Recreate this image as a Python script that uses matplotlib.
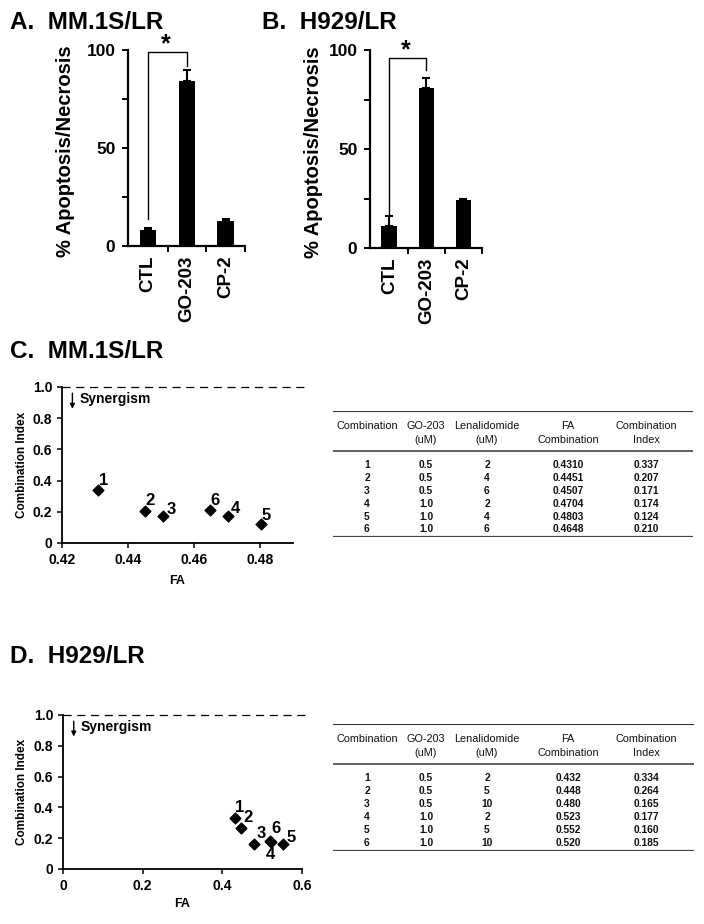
import numpy as np
import matplotlib
matplotlib.use("Agg")
import matplotlib.pyplot as plt
from matplotlib.lines import Line2D

plt.rcParams['font.family'] = ['Liberation Sans', 'DejaVu Sans']

# ---- data ----
groups = ['CTL', 'GO-203', 'CP-2']
mm1s_mean = [8, 84, 13]
mm1s_err = [1, 6, 1]
h929_mean = [11, 81, 24]
h929_err = [5, 5, 1]

combos = ['1', '2', '3', '4', '5', '6']
go203_dose = ['0.5', '0.5', '0.5', '1.0', '1.0', '1.0']
mm1s_len_dose = ['2', '4', '6', '2', '4', '6']
mm1s_fa = [0.4310, 0.4451, 0.4507, 0.4704, 0.4803, 0.4648]
mm1s_ci = [0.337, 0.207, 0.171, 0.174, 0.124, 0.210]
h929_len_dose = ['2', '5', '10', '2', '5', '10']
h929_fa = [0.432, 0.448, 0.480, 0.523, 0.552, 0.520]
h929_ci = [0.334, 0.264, 0.165, 0.177, 0.160, 0.185]

W, H = 704, 924
fig = plt.figure(figsize=(W / 100, H / 100), dpi=100)


def box(l, t, r, b):
    return [l / W, 1 - b / H, (r - l) / W, (b - t) / H]


def title(x, y, s):
    fig.text(x / W, 1 - y / H, s, fontsize=17.5, fontweight='bold', va='baseline')


def bar_panel(rect, means, errs, ylab_x, bracket, star_y):
    ax = fig.add_axes(rect)
    x = np.arange(len(groups))
    ax.bar(x, means, width=0.42, color='black',
           yerr=[np.zeros(len(errs)), errs], capsize=3,
           error_kw=dict(ecolor='black', elinewidth=1.5, capthick=1.5))
    ax.set_xlim(-0.52, 2.5)
    ax.set_ylim(0, 100)
    for s in ['top', 'right']:
        ax.spines[s].set_visible(False)
    for s in ['left', 'bottom']:
        ax.spines[s].set_linewidth(1.6)
    ax.set_yticks([0, 50, 100])
    ax.set_yticks([25, 75], minor=True)
    ax.set_xticks(x)
    ax.set_xticklabels(groups, rotation=90, fontsize=13.5, fontweight='bold')
    ax.set_xticks([0.5, 1.5, 2.5], minor=True)
    ax.tick_params(axis='x', which='major', length=0, pad=7)
    ax.tick_params(axis='x', which='minor', length=4, width=1.4, direction='out')
    ax.tick_params(axis='y', which='both', length=4, width=1.4, direction='out')
    ax.tick_params(axis='y', labelsize=12.5, pad=5)
    for t in ax.get_yticklabels():
        t.set_fontweight('bold')
    ax.set_ylabel('% Apoptosis/Necrosis', fontsize=14.5, fontweight='bold')
    ax.yaxis.set_label_coords(ylab_x, 0.485)
    y0, ytop, y1 = bracket
    ax.plot([0, 0, 1, 1], [y0, ytop, ytop, y1], color='black', lw=1.0, clip_on=False)
    ax.text(0.45, star_y, '*', ha='center', va='center', fontsize=18,
            fontweight='bold', clip_on=False)
    return ax


title(10, 29, 'A.  MM.1S/LR')
title(262, 29, 'B.  H929/LR')
bar_panel(box(128, 50, 245, 246), mm1s_mean, mm1s_err, -0.45, (14, 99, 92), 103)
bar_panel(box(370, 50, 482, 248), h929_mean, h929_err, -0.42, (16, 96, 90), 100)


def ci_panel(rect, fa, ci, xlim, xticks, xlabels, offsets, dash_end, ylab_x, xlab_y):
    ax = fig.add_axes(rect)
    ax.scatter(fa, ci, marker='D', s=30, color='black', zorder=3)
    for lab, xv, yv, off in zip(combos, fa, ci, offsets):
        ax.annotate(lab, (xv, yv), xytext=off, textcoords='offset points',
                    ha='center', va='center', fontsize=12, fontweight='bold')
    ax.set_xlim(*xlim)
    ax.set_ylim(0, 1.0)
    ax.plot([xlim[0], dash_end], [1.0, 1.0], ls=(0, (6.5, 4.5)), color='black',
            lw=0.9, clip_on=False)
    for s in ['top', 'right']:
        ax.spines[s].set_visible(False)
    for s in ['left', 'bottom']:
        ax.spines[s].set_linewidth(1.3)
    ax.set_yticks([0, 0.2, 0.4, 0.6, 0.8, 1.0])
    ax.set_yticklabels(['0', '0.2', '0.4', '0.6', '0.8', '1.0'])
    ax.set_xticks(xticks)
    ax.set_xticklabels(xlabels)
    ax.tick_params(axis='both', length=3.5, width=1.1, direction='out', labelsize=10)
    for t in ax.get_xticklabels() + ax.get_yticklabels():
        t.set_fontweight('bold')
    ax.set_ylabel('Combination Index', fontsize=8.5, fontweight='bold')
    ax.yaxis.set_label_coords(ylab_x, 0.5)
    ax.set_xlabel('FA', fontsize=9, fontweight='bold')
    ax.xaxis.set_label_coords(0.5, xlab_y)
    ax.annotate('', xy=(0.045, 0.86), xytext=(0.045, 0.96), xycoords='axes fraction',
                arrowprops=dict(arrowstyle='-|>', color='black', lw=1.0,
                                mutation_scale=7, shrinkA=0, shrinkB=0))
    ax.text(0.075, 0.92, 'Synergism', transform=ax.transAxes, fontsize=10,
            fontweight='bold', va='center', ha='left')
    return ax


def table(l, t, r, b, len_dose, fa, ci, fa_fmt):
    ax = fig.add_axes(box(l, t, r, b))
    ax.set_xlim(0, r - l)
    ax.set_ylim(b - t, 0)
    ax.axis('off')
    w = r - l
    ax.add_line(Line2D([0, w], [0, 0], color='#333333', lw=0.8))
    ax.add_line(Line2D([0, w], [40, 40], color='#555555', lw=1.3))
    ax.add_line(Line2D([0, w], [b - t, b - t], color='#444444', lw=1.6))
    cols = [34, 93, 154, 235, 313]
    heads = [('Combination', ''), ('GO-203', '(uM)'), ('Lenalidomide', '(uM)'),
             ('FA', 'Combination'), ('Combination', 'Index')]
    kw = dict(ha='center', va='center', color='#111111')
    for c, (h1, h2) in zip(cols, heads):
        ax.text(c, 15, h1, fontsize=7.8, **kw)
        if h2:
            ax.text(c, 29, h2, fontsize=7.8, **kw)
    for i in range(len(combos)):
        y = 54 + i * 12.9
        row = [combos[i], go203_dose[i], len_dose[i], fa_fmt.format(fa[i]),
               '{:.3f}'.format(ci[i])]
        for c, s in zip(cols, row):
            ax.text(c, y, s, fontsize=7.4, fontweight='bold', **kw)


title(10, 358, 'C.  MM.1S/LR')
ci_panel(box(62, 387, 293, 543), mm1s_fa, mm1s_ci, (0.42, 0.49),
         [0.42, 0.44, 0.46, 0.48], ['0.42', '0.44', '0.46', '0.48'],
         [(4, 7), (4, 7), (6, 5), (5, 5), (4, 6), (4, 7)], 0.4935, -0.147, -0.205)
table(333, 411, 693, 537, mm1s_len_dose, mm1s_fa, mm1s_ci, '{:.4f}')

title(10, 663, 'D.  H929/LR')
ci_panel(box(63, 715, 302, 869), h929_fa, h929_ci, (0, 0.6),
         [0, 0.2, 0.4, 0.6], ['0', '0.2', '0.4', '0.6'],
         [(3, 7), (5, 8), (5, 7), (-1, -9), (6, 5), (4, 9)], 0.62, -0.146, -0.19)
table(333, 724, 694, 851, h929_len_dose, h929_fa, h929_ci, '{:.3f}')

fig.savefig('out.png', dpi=100)
